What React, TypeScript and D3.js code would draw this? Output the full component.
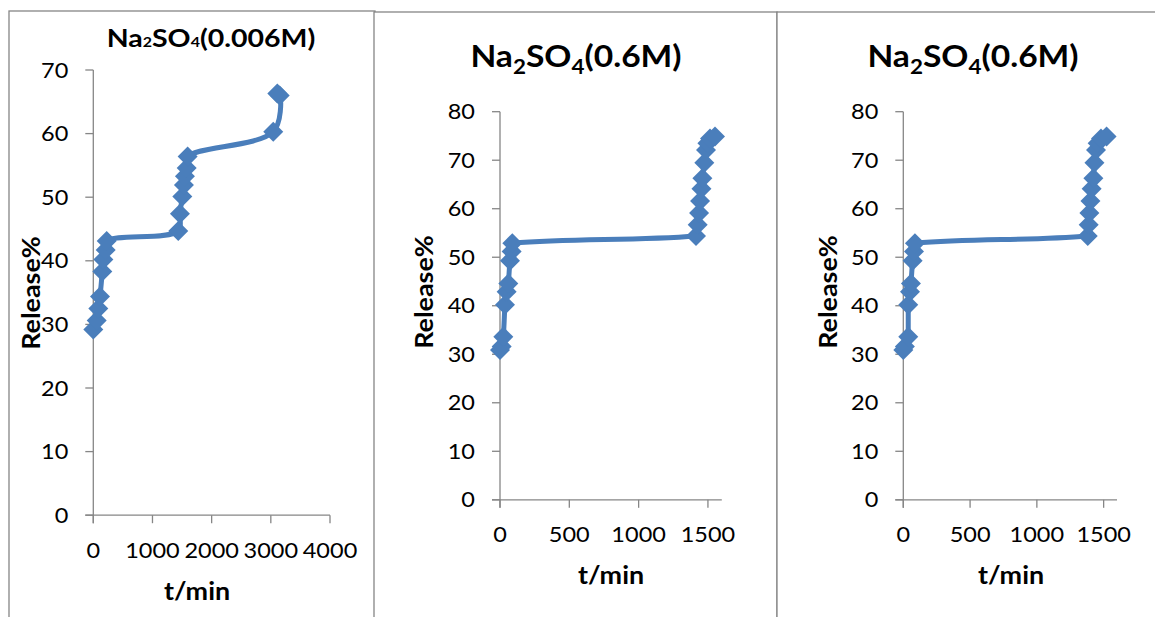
import React from "react";
import * as d3 from "d3";

// Panel 1: Na2SO4 (0.006M)
const t1 = [0, 57, 85, 113, 152, 170, 209, 226, 1436, 1464, 1504, 1532, 1549, 1578, 1594, 3041, 3150, 3110];
const r1 = [29.2, 30.6, 32.5, 34.4, 38.3, 40.2, 41.7, 43.1, 44.7, 47.4, 50.1, 51.9, 53.3, 54.6, 56.4, 60.3, 66.0, 66.3];
// Panel 2: Na2SO4 (0.6M)
const t2 = [0, 12, 24, 36, 48, 60, 72, 84, 89, 1414, 1426, 1436, 1443, 1453, 1460, 1474, 1486, 1496, 1515, 1551];
const r2 = [30.9, 31.6, 33.6, 40.2, 42.9, 44.6, 49.3, 51.2, 52.9, 54.4, 56.7, 59.1, 61.6, 64.1, 66.3, 69.5, 72.1, 73.5, 74.5, 74.9];
// Panel 3: Na2SO4 (0.6M)
const t3 = [0, 12, 37, 37, 50, 57, 70, 80, 87, 1381, 1388, 1393, 1401, 1410, 1423, 1431, 1443, 1455, 1480, 1522];
const r3 = [30.9, 31.6, 33.6, 40.2, 42.9, 44.6, 49.3, 51.2, 52.9, 54.4, 56.7, 59.1, 61.6, 64.1, 66.3, 69.5, 72.1, 73.5, 74.5, 74.9];

const xTicks1 = [0, 1000, 2000, 3000, 4000];
const yTicks1 = [0, 10, 20, 30, 40, 50, 60, 70];
const xTicks23 = [0, 500, 1000, 1500];
const yTicks23 = [0, 10, 20, 30, 40, 50, 60, 70, 80];

const BLUE = "#4A7EBB";
const GRAY = "#868686";
const FONT = "Lato, 'Open Sans', sans-serif";
const SX = 1.12;

function T(props: {
  x: number;
  y: number;
  anchor?: string;
  size: number;
  bold?: boolean;
  rot?: number;
  sx?: number;
  dy?: number;
  children: React.ReactNode;
}) {
  const { x, y, anchor = "middle", size, bold, rot = 0, sx = SX, dy = 0, children } = props;
  return (
    <text
      transform={`translate(${x},${y}) rotate(${rot}) scale(${sx},1)`}
      dy={dy}
      textAnchor={anchor}
      fontFamily={FONT}
      fontWeight={bold ? "bold" : "normal"}
      fontSize={size}
      fill="#000"
    >
      {children}
    </text>
  );
}

type PanelProps = {
  box: [number, number, number, number];
  xr: [number, number];
  yr: [number, number];
  xd: [number, number];
  yd: [number, number];
  xt: number[];
  yt: number[];
  t: number[];
  r: number[];
  curve: d3.CurveFactory;
  title: React.ReactNode;
  titleX: number;
  titleY: number;
  titleSize: number;
  titleSX: number;
  yLab: [number, number];
  xLab: [number, number];
  tickLabY: number;
};

function Panel(p: PanelProps) {
  const x = d3.scaleLinear().domain(p.xd).range(p.xr);
  const y = d3.scaleLinear().domain(p.yd).range(p.yr);
  const pts = p.t.map((v, i) => [x(v), y(p.r[i])] as [number, number]);
  const line = d3.line().curve(p.curve)(pts) || "";
  const [bx, by, bw, bh] = p.box;
  const x0 = x(0);
  const y0 = y(0);
  const s = 10;
  return (
    <g>
      <rect x={bx} y={by} width={bw} height={bh} fill="white" stroke={GRAY} strokeWidth={1.3} />
      <T x={p.titleX} y={p.titleY} size={p.titleSize} bold sx={p.titleSX}>
        {p.title}
      </T>
      <line x1={x0} x2={x0} y1={p.yr[1]} y2={y0 + 8} stroke={GRAY} strokeWidth={1.3} />
      <line x1={x0 - 8} x2={p.xr[1]} y1={y0} y2={y0} stroke={GRAY} strokeWidth={1.3} />
      {p.yt.map((v) => (
        <g key={"y" + v}>
          <line x1={x0 - 8} x2={x0} y1={y(v)} y2={y(v)} stroke={GRAY} strokeWidth={1.3} />
          <T x={x0 - 25} y={y(v) + 7.5} anchor="end" size={21}>
            {v}
          </T>
        </g>
      ))}
      {p.xt.map((v) => (
        <g key={"x" + v}>
          <line x1={x(v)} x2={x(v)} y1={y0} y2={y0 + 8} stroke={GRAY} strokeWidth={1.3} />
          <T x={x(v)} y={p.tickLabY} size={21}>
            {v}
          </T>
        </g>
      ))}
      <T x={p.yLab[0]} y={p.yLab[1]} rot={-90} dy={8} size={24} bold>
        Release%
      </T>
      <T x={p.xLab[0]} y={p.xLab[1]} size={24} bold>
        t/min
      </T>
      <path d={line} fill="none" stroke={BLUE} strokeWidth={5} strokeLinejoin="round" />
      {pts.map(([px, py], i) => (
        <path
          key={i}
          d={`M${px},${py - s}L${px + s},${py}L${px},${py + s}L${px - s},${py}Z`}
          fill={BLUE}
        />
      ))}
    </g>
  );
}

export default function App() {
  const title1 = (
    <tspan>
      Na<tspan fontSize={14}>2</tspan>SO<tspan fontSize={14}>4</tspan>(0.006M)
    </tspan>
  );
  const title2 = (
    <tspan>
      Na<tspan fontSize={20} dy={7}>2</tspan>
      <tspan dy={-7}>SO</tspan>
      <tspan fontSize={20} dy={7}>4</tspan>
      <tspan dy={-7}>(0.6M)</tspan>
    </tspan>
  );
  return (
    <div style={{ position: "absolute", left: 0, top: 0 }}>
      <svg width={1155} height={617} style={{ display: "block", background: "white" }}>
        <Panel
          box={[9, 11, 366, 620]}
          xr={[93.3, 330]}
          yr={[515.2, 70]}
          xd={[0, 4000]}
          yd={[0, 70]}
          xt={xTicks1}
          yt={yTicks1}
          t={t1}
          r={r1}
          curve={d3.curveCatmullRom.alpha(0.5)}
          title={title1}
          titleX={211}
          titleY={47}
          titleSize={25}
          titleSX={1.14}
          yLab={[32, 293]}
          xLab={[197, 600]}
          tickLabY={558}
        />
        <Panel
          box={[374, 12, 403, 620]}
          xr={[500, 721.8]}
          yr={[499.8, 111.7]}
          xd={[0, 1600]}
          yd={[0, 80]}
          xt={xTicks23}
          yt={yTicks23}
          t={t2}
          r={r2}
          curve={d3.curveMonotoneX}
          title={title2}
          titleX={576}
          titleY={67}
          titleSize={30}
          titleSX={1.12}
          yLab={[425, 292]}
          xLab={[611, 584]}
          tickLabY={542}
        />
        <Panel
          box={[777, 12, 400, 620]}
          xr={[903.3, 1117]}
          yr={[499.8, 111.7]}
          xd={[0, 1600]}
          yd={[0, 80]}
          xt={xTicks23}
          yt={yTicks23}
          t={t3}
          r={r3}
          curve={d3.curveMonotoneX}
          title={title2}
          titleX={973}
          titleY={67}
          titleSize={30}
          titleSX={1.12}
          yLab={[829, 292]}
          xLab={[1011, 584]}
          tickLabY={542}
        />
      </svg>
    </div>
  );
}
